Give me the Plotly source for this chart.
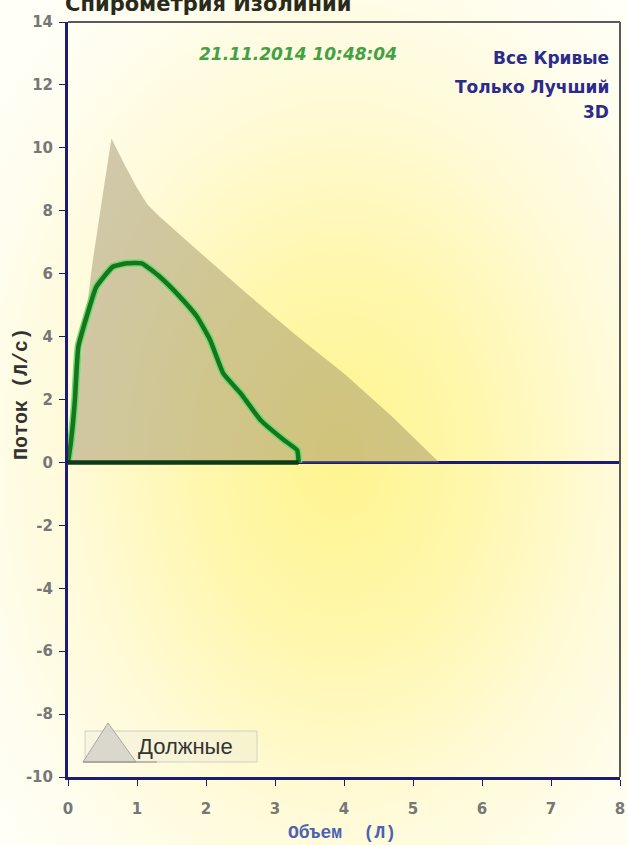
import base64
import plotly.graph_objects as go

# ---------------- data ----------------
predicted_volume = [0.0, 0.12, 0.25, 0.36, 0.50, 0.63, 0.80, 0.99, 1.15, 1.33, 1.90, 2.59, 3.30, 4.00, 4.70, 5.38]
predicted_flow   = [0.0, 2.00, 4.50, 6.43, 8.45, 10.30, 9.55, 8.76, 8.20, 7.81, 6.70, 5.37, 4.05, 2.83, 1.45, 0.0]

curve_volume = [0.0, 0.04, 0.07, 0.10, 0.15, 0.27, 0.41, 0.65, 0.85, 1.07, 1.33, 1.62, 1.87, 2.06, 2.25, 2.50, 2.79, 3.13, 3.32, 3.34, 3.34]
curve_flow   = [0.0, 0.60, 1.20, 1.98, 3.68, 4.63, 5.58, 6.22, 6.33, 6.33, 5.90, 5.27, 4.63, 3.89, 2.83, 2.20, 1.35, 0.71, 0.39, 0.08, 0.0]

return_volume = [3.34, 0.0]
return_flow = [0.0, 0.0]

x_ticks = [0, 1, 2, 3, 4, 5, 6, 7, 8]
x_ticktext = ["0", "1", "2", "3", "4", "5", "6", "7", "8"]
y_ticks = [-10, -8, -6, -4, -2, 0, 2, 4, 6, 8, 10, 12, 14]
y_ticktext = ["-10", "-8", "-6", "-4", "-2", "0", "2", "4", "6", "8", "10", "12", "14"]

title_text = "Спирометрия Изолиний"
date_text = "21.11.2014 10:48:04"
menu_items = ["Все Кривые", "Только Лучший", "3D"]
legend_label = "Должные"
x_title = "Объем  (Л)"
y_title = "Поток (Л/с)"

# ---------------- layout geometry ----------------
W, H = 628, 845
ML, MR, MT, MB = 68, 8, 22, 68
PW, PH = W - ML - MR, H - MT - MB

def px(xp):
    return (xp - ML) / PW

def py(yp):
    return (H - MB - yp) / PH

# background gradient (SVG data URI)
svg = (
    "<svg xmlns='http://www.w3.org/2000/svg' width='628' height='845' preserveAspectRatio='none'>"
    "<defs><radialGradient id='g' cx='0.54' cy='0.54' r='0.72'>"
    "<stop offset='0' stop-color='#FFF48E'/>"
    "<stop offset='0.3' stop-color='#FFF7AC'/>"
    "<stop offset='0.58' stop-color='#FFFAD6'/>"
    "<stop offset='0.82' stop-color='#FFFDEE'/>"
    "<stop offset='1' stop-color='#FFFFF8'/>"
    "</radialGradient></defs>"
    "<rect width='628' height='845' fill='url(#g)'/></svg>"
)
bg_src = "data:image/svg+xml;base64," + base64.b64encode(svg.encode()).decode()

fig = go.Figure()

fig.add_trace(go.Scatter(
    x=predicted_volume, y=predicted_flow, mode="lines",
    fill="toself", fillcolor="rgba(150,138,100,0.45)",
    line=dict(width=0), hoverinfo="skip", showlegend=False,
))
# light green halo
fig.add_trace(go.Scatter(
    x=curve_volume, y=curve_flow, mode="lines",
    line=dict(color="#6fdc6f", width=7.5, shape="spline", smoothing=0.4),
    hoverinfo="skip", showlegend=False,
))
fig.add_trace(go.Scatter(
    x=curve_volume, y=curve_flow, mode="lines",
    line=dict(color="#17751f", width=4.5, shape="spline", smoothing=0.4),
    showlegend=False,
))
fig.add_trace(go.Scatter(
    x=return_volume, y=return_flow, mode="lines",
    line=dict(color="#0e3a18", width=4.5),
    showlegend=False,
))

tickfont = dict(family="DejaVu Sans", size=15, color="#777777", weight="bold")

fig.update_xaxes(
    range=[0, 8], tickvals=x_ticks, ticktext=x_ticktext,
    showgrid=False, zeroline=False,
    showline=True, linecolor="#1d1d6e", linewidth=3,
    ticks="outside", ticklen=6, tickcolor="#1d1d6e", tickwidth=1,
    ticklabelstandoff=10, tickfont=tickfont,
)
fig.update_yaxes(
    range=[-10, 14], tickvals=y_ticks, ticktext=y_ticktext,
    showgrid=False, zeroline=True, zerolinecolor="#1d1d6e", zerolinewidth=2.5,
    showline=True, linecolor="#1d1d6e", linewidth=3,
    ticks="outside", ticklen=6, tickcolor="#1d1d6e", tickwidth=1,
    ticklabelstandoff=3, tickfont=tickfont,
)

shapes = [
    # top & right frame
    dict(type="line", xref="paper", yref="paper", x0=0, x1=1, y0=1, y1=1,
         line=dict(color="#5a5a5a", width=2)),
    dict(type="line", xref="paper", yref="paper", x0=1, x1=1, y0=0, y1=1,
         line=dict(color="#5a5a5a", width=2)),
    # legend box
    dict(type="rect", xref="paper", yref="paper",
         x0=px(85), x1=px(257), y0=py(762), y1=py(731),
         line=dict(color="#d0d0c4", width=1), fillcolor="rgba(230,228,215,0.3)"),
    dict(type="path", xref="paper", yref="paper",
         path=f"M {px(83)} {py(762)} L {px(108)} {py(723)} L {px(136)} {py(762)} Z",
         line=dict(color="#a8a8a0", width=1), fillcolor="rgba(210,208,200,0.8)"),
    dict(type="line", xref="paper", yref="paper",
         x0=px(83), x1=px(157), y0=py(762), y1=py(762),
         line=dict(color="#909088", width=1)),
]

annotations = [
    dict(text=f"<b>{title_text}</b>", xref="paper", yref="paper",
         x=px(63), y=1, xanchor="left", yanchor="bottom", yshift=4,
         showarrow=False, font=dict(family="DejaVu Sans", size=21, color="#2a2a1a")),
    dict(text=f"<b><i>{date_text}</i></b>", xref="paper", yref="paper",
         x=px(298), y=py(54), xanchor="center", yanchor="middle",
         showarrow=False, font=dict(family="DejaVu Sans", size=17, color="#44a044")),
    dict(text=legend_label, xref="paper", yref="paper",
         x=px(136), y=py(746), xanchor="left", yanchor="middle",
         showarrow=False, font=dict(family="Liberation Sans", size=22, color="#333333")),
    dict(text=f"<b>{y_title}</b>", xref="paper", yref="paper",
         x=px(21), y=py(394), xanchor="center", yanchor="middle", textangle=-90,
         showarrow=False, font=dict(family="Liberation Mono", size=20, color="#333333")),
    dict(text=f"<b>{x_title}</b>", xref="paper", yref="paper",
         x=px(342), y=py(833), xanchor="center", yanchor="middle",
         showarrow=False, font=dict(family="Liberation Mono", size=18, color="#4a62b0")),
]
menu_y = [58, 87, 112]
for label, yy in zip(menu_items, menu_y):
    annotations.append(dict(
        text=label, xref="paper", yref="paper", x=px(611), y=py(yy),
        xanchor="right", yanchor="middle", showarrow=False,
        font=dict(family="DejaVu Sans", size=17, color="#2b2b8a", weight="bold")))

fig.update_layout(
    width=W, height=H,
    margin=dict(l=ML, r=MR, t=MT, b=MB, autoexpand=False),
    paper_bgcolor="white", plot_bgcolor="rgba(0,0,0,0)",
    images=[dict(source=bg_src, xref="paper", yref="paper",
                 x=-ML / PW, y=1 + MT / PH, sizex=W / PW, sizey=H / PH,
                 xanchor="left", yanchor="top", sizing="stretch", layer="below")],
    shapes=shapes, annotations=annotations, showlegend=False,
)

fig.write_html("out.html", config={"displayModeBar": False},
               post_script="document.body.style.margin='0px';")
